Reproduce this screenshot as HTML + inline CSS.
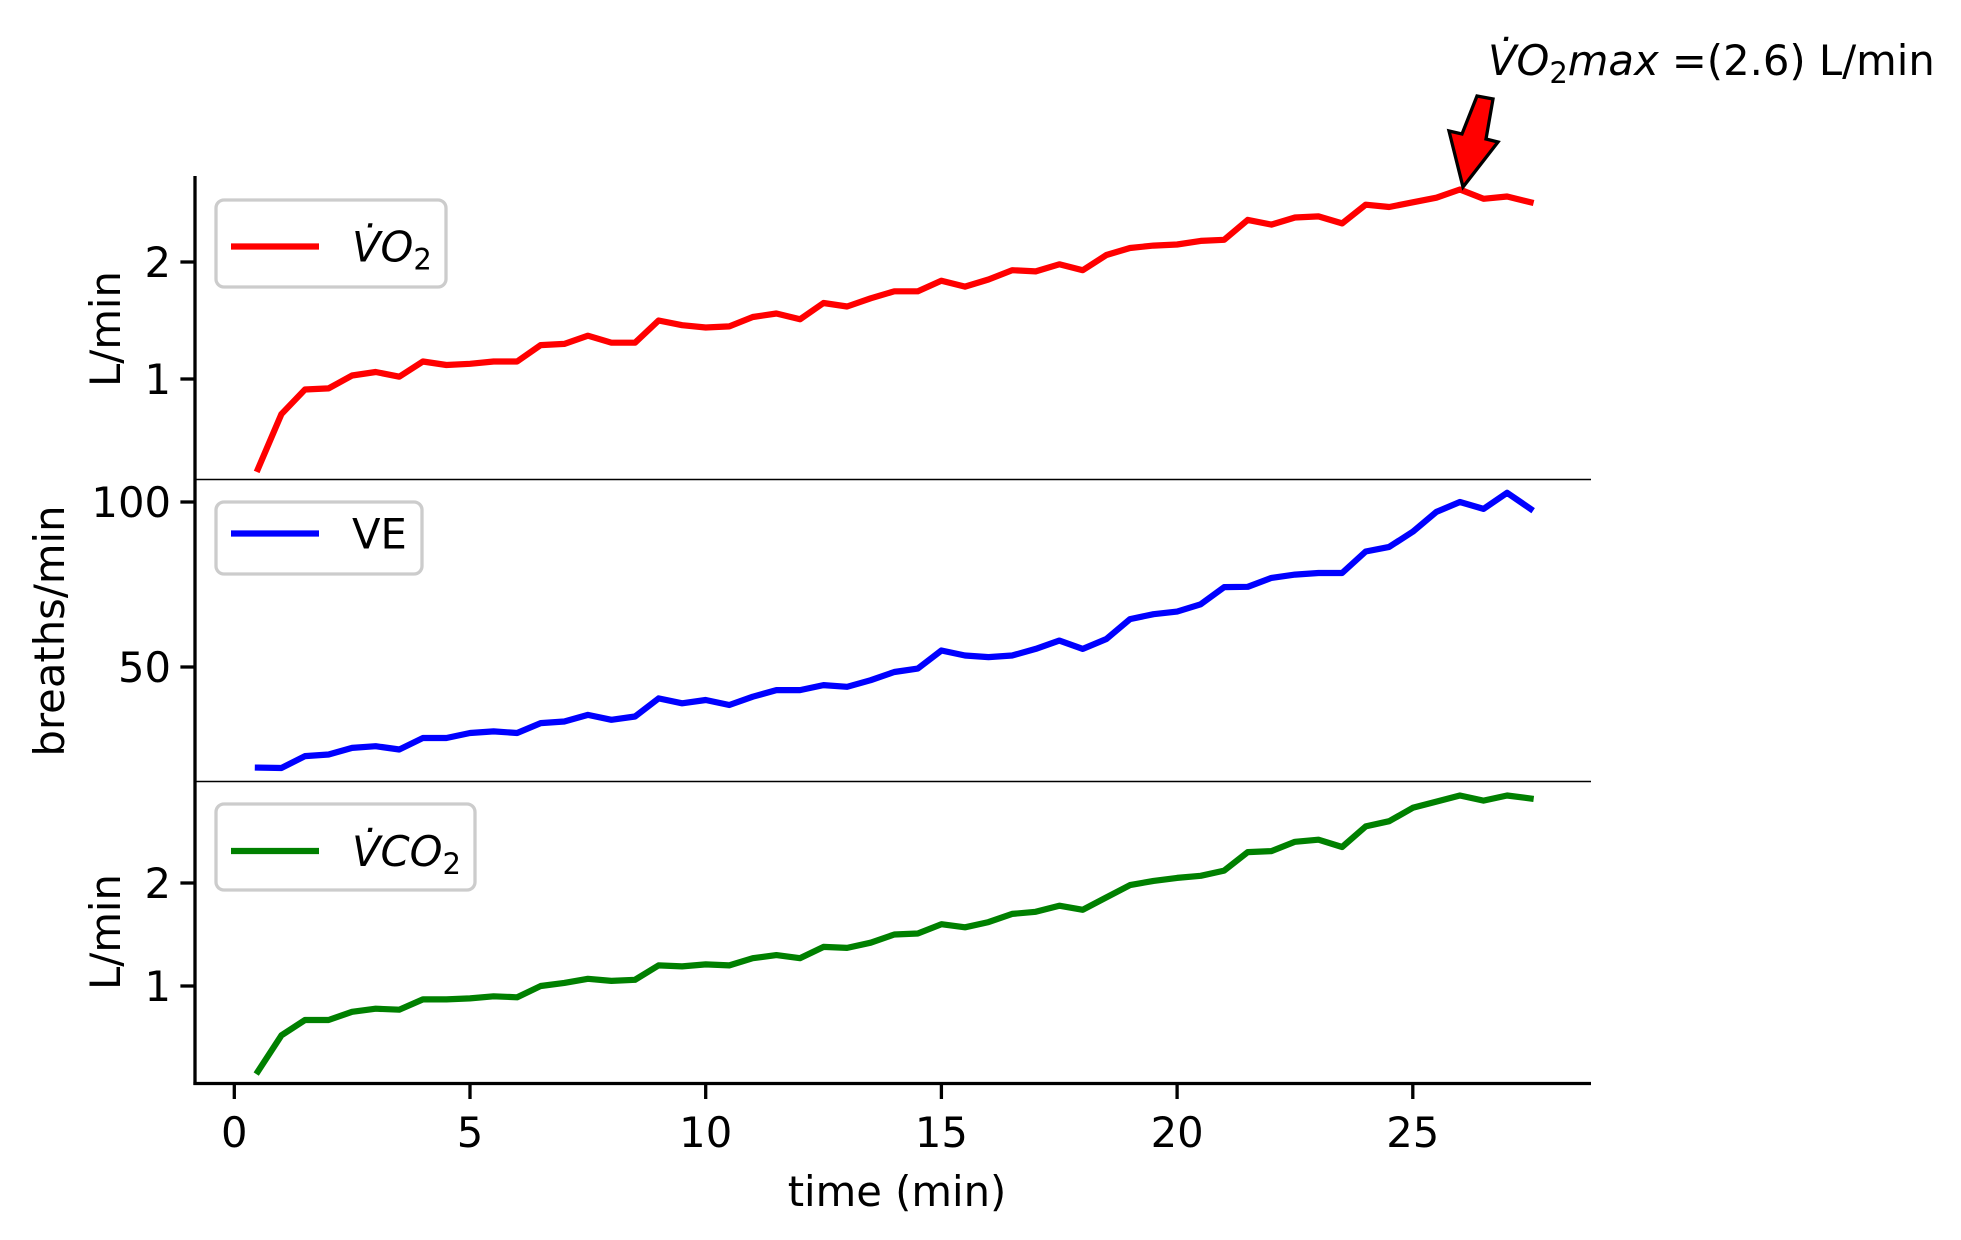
<!DOCTYPE html>
<html><head><meta charset="utf-8">
<style>
html,body{margin:0;padding:0;background:#fff;}
svg{display:block;font-family:"DejaVu Sans","Liberation Sans",sans-serif;}
</style></head>
<body>
<svg id="chart" width="1961" height="1240" viewBox="0 0 1961 1240" xmlns="http://www.w3.org/2000/svg">
<rect width="1961" height="1240" fill="#fff"/>
<g id="g"></g>
</svg>
<script>
const times = [0.5,1,1.5,2,2.5,3,3.5,4,4.5,5,5.5,6,6.5,7,7.5,8,8.5,9,9.5,10,10.5,11,11.5,12,12.5,13,13.5,14,14.5,15,15.5,16,16.5,17,17.5,18,18.5,19,19.5,20,20.5,21,21.5,22,22.5,23,23.5,24,24.5,25,25.5,26,26.5,27,27.5];
const vo2 = [0.23,0.7,0.91,0.92,1.03,1.06,1.02,1.15,1.12,1.13,1.15,1.15,1.29,1.30,1.37,1.31,1.31,1.50,1.46,1.44,1.45,1.53,1.56,1.51,1.65,1.62,1.69,1.75,1.75,1.84,1.79,1.85,1.93,1.92,1.98,1.93,2.06,2.12,2.14,2.15,2.18,2.19,2.36,2.32,2.38,2.39,2.33,2.49,2.47,2.51,2.55,2.62,2.54,2.56,2.51];
const ve = [19.5,19.4,23,23.5,25.5,26,25,28.5,28.5,30,30.5,30,33,33.5,35.5,34,35,40.5,39,40,38.5,41,43,43,44.5,44,46,48.5,49.5,55,53.5,53,53.5,55.5,58,55.5,58.5,64.5,66,66.8,69,74.2,74.3,77,78,78.5,78.5,85,86.4,91,97,100,97.9,102.8,97.9];
const vco2 = [0.17,0.52,0.67,0.67,0.75,0.78,0.77,0.87,0.87,0.88,0.90,0.89,1.00,1.03,1.07,1.05,1.06,1.20,1.19,1.21,1.20,1.27,1.30,1.27,1.38,1.37,1.42,1.50,1.51,1.60,1.57,1.62,1.70,1.72,1.78,1.74,1.86,1.98,2.02,2.05,2.07,2.12,2.30,2.31,2.40,2.42,2.35,2.55,2.6,2.73,2.79,2.85,2.8,2.85,2.82];
const xTicks = [0,5,10,15,20,25];
const vo2Ticks = [1,2];
const veTicks = [50,100];
const vco2Ticks = [1,2];
const vo2MaxLabel = "2.6";

const NS = "http://www.w3.org/2000/svg";
const g = document.getElementById('g');
function el(tag, attrs, text){
  const e = document.createElementNS(NS, tag);
  for (const k in attrs) e.setAttribute(k, attrs[k]);
  if (text !== undefined) e.textContent = text;
  g.appendChild(e);
  return e;
}
const L = 195, R = 1591;
const xS = t => 234.3 + 47.14 * t;
const y1 = v => 496 - 117 * v;
const y2 = v => 832 - 3.3 * v;
const y3 = v => 1089 - 103 * v;

function series(vals, yf, color, name){
  const d = vals.map((v,i)=>(i?'L':'M')+xS(times[i]).toFixed(1)+','+yf(v).toFixed(1)).join(' ');
  const p = el('path',{d:d,fill:'none',stroke:color,'stroke-width':6.2,'stroke-linejoin':'round','stroke-linecap':'square'});
  
  
}
series(vo2, y1, '#ff0000', 'vo2-line');
series(ve, y2, '#0000ff', 've-line');
series(vco2, y3, '#008000', 'vco2-line');

// spines
let s = el('line',{x1:L,y1:176,x2:L,y2:1085,stroke:'#000','stroke-width':3.3});
 
s = el('line',{x1:L-1.6,y1:1083.5,x2:R,y2:1083.5,stroke:'#000','stroke-width':3.3});
 
s = el('line',{x1:L,y1:479.5,x2:R,y2:479.5,stroke:'#000','stroke-width':1.5});
 
s = el('line',{x1:L,y1:781.5,x2:R,y2:781.5,stroke:'#000','stroke-width':1.5});
 

function yTicks(ticks, yf, name){
  ticks.forEach(v=>{
    const y = yf(v);
    const t = el('line',{x1:L-14.6,y1:y,x2:L,y2:y,stroke:'#000','stroke-width':3.3});
    
    
    const tx = el('text',{x:L-24,y:y+15,'font-size':41.7,'text-anchor':'end',fill:'#000'}, String(v));
    
    
  });
}
yTicks(vo2Ticks, y1, 'vo2-y');
yTicks(veTicks, y2, 've-y');
yTicks(vco2Ticks, y3, 'vco2-y');

xTicks.forEach(v=>{
  const x = xS(v);
  const t = el('line',{x1:x,y1:1083.5,x2:x,y2:1099,stroke:'#000','stroke-width':3.3});
  
  
  const tx = el('text',{x:x,y:1147,'font-size':41.7,'text-anchor':'middle',fill:'#000'}, String(v));
  
  
});

function ylab(txt, x, y, name){
  const t = el('text',{x:x,y:y,'font-size':41.7,'text-anchor':'middle',transform:`rotate(-90 ${x} ${y})`,fill:'#000'}, txt);
  
  
}
ylab('L/min', 120, 329, 'vo2-y-axis-title');
ylab('breaths/min', 64, 631, 've-y-axis-title');
ylab('L/min', 120, 932, 'vco2-y-axis-title');
const xl = el('text',{x:897,y:1206,'font-size':41.7,'text-anchor':'middle',fill:'#000'}, 'time (min)');



function legend(x,y,w,h,ly,color,name,html){
  const b = el('rect',{x:x,y:y,width:w,height:h,rx:8,fill:'#fff','fill-opacity':0.8,stroke:'#cccccc','stroke-width':3.3});
  
  
  const l = el('line',{x1:231,y1:ly,x2:319,y2:ly,stroke:color,'stroke-width':6.2});
  
  
  const t = el('text',{x:352,y:ly+15,'font-size':41.7,fill:'#000'});
  t.innerHTML = html;
  
  
}
legend(216,200,230,87,246.5,'#ff0000','vo2','<tspan font-style="italic">V&#775;O</tspan><tspan font-size="29" dy="8">2</tspan>');
legend(216,502,206,72,533.5,'#0000ff','ve','VE');
legend(216,804,259,86,851,'#008000','vco2','<tspan font-style="italic">V&#775;CO</tspan><tspan font-size="29" dy="8">2</tspan>');

// annotation arrow
const arrow = el('polygon',{points:'1477,96 1493,99 1486,139 1498,142 1463,187 1449,131 1462,134',fill:'#ff0000',stroke:'#000','stroke-width':3.3,'stroke-linejoin':'miter'});


const at = el('text',{x:1488,y:75,'font-size':41.7,fill:'#000'});
at.innerHTML = '<tspan font-style="italic">V&#775;O</tspan><tspan font-size="29" dy="8">2</tspan><tspan font-style="italic" dy="-8">max</tspan> =(' + vo2MaxLabel + ') L/min';


</script>
</body></html>
